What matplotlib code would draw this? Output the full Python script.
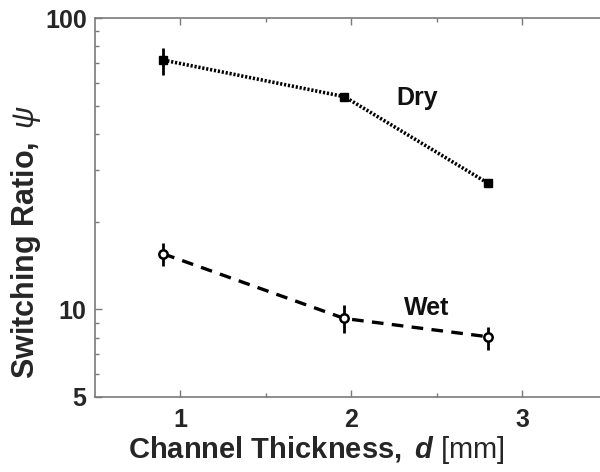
import matplotlib
matplotlib.use("Agg")
import matplotlib.pyplot as plt
from matplotlib.ticker import FixedLocator, NullFormatter

plt.rcParams['font.family'] = ['Liberation Sans', 'DejaVu Sans']
plt.rcParams['mathtext.fontset'] = 'custom'
plt.rcParams['mathtext.rm'] = 'Liberation Sans'
plt.rcParams['mathtext.bf'] = 'Liberation Sans:bold'
plt.rcParams['mathtext.it'] = 'Liberation Sans:italic'
plt.rcParams['mathtext.bfit'] = 'Liberation Sans:bold:italic'

# data
dry_x = [0.9, 1.96, 2.8]
dry_y = [71.7, 53.7, 27.1]
dry_lo = [63.7, 52.5, 26.5]
dry_hi = [78.9, 55.0, 27.7]

wet_x = [0.9, 1.96, 2.8]
wet_y = [15.5, 9.3, 8.05]
wet_lo = [14.1, 8.3, 7.25]
wet_hi = [16.9, 10.35, 8.7]

y_ticks = [5, 10, 100]
y_ticklabels = ['5', '10', '100']
x_ticks = [1, 2, 3]

fig = plt.figure(figsize=(6, 4.72), dpi=100)
ax = fig.add_axes([95/600, 75/472, (607.5-95)/600, (397-18)/472])
ax.set_yscale('log')

def yerr(y, lo, hi):
    return [[a - b for a, b in zip(y, lo)], [c - a for a, c in zip(y, hi)]]

ax.errorbar(dry_x, dry_y, yerr=yerr(dry_y, dry_lo, dry_hi), fmt='s', ms=6,
            color='black', mfc='black', mec='black', ecolor='black', elinewidth=2,
            capsize=0, zorder=3)
ax.plot(dry_x, dry_y, linestyle=(0, (0.6, 0.5)), color='black', lw=2.6, zorder=2)

ax.errorbar(wet_x, wet_y, yerr=yerr(wet_y, wet_lo, wet_hi), fmt='o', ms=6,
            color='black', mfc='white', mec='black', mew=1.8, ecolor='black',
            elinewidth=2, capsize=0, zorder=3)
ax.plot(wet_x, wet_y, linestyle=(0, (3.5, 2.5)), color='black', lw=2.4, zorder=2)

ax.set_xlim(0.5, 3.5)
ax.set_ylim(5, 100)
ax.yaxis.set_major_locator(FixedLocator(y_ticks))
ax.set_yticklabels(y_ticklabels)
ax.yaxis.set_minor_locator(FixedLocator([6, 7, 8, 9, 20, 30, 40, 50, 60, 70, 80, 90]))
ax.yaxis.set_minor_formatter(NullFormatter())
ax.xaxis.set_major_locator(FixedLocator(x_ticks))
ax.xaxis.set_minor_locator(FixedLocator([1.5, 2.5]))

for s in ax.spines.values():
    s.set_color('#7a7a7a')
    s.set_linewidth(1.2)
ax.tick_params(which='both', direction='in', top=True, right=True, colors='#7a7a7a',
               labelcolor='#262626')
ax.tick_params(which='major', length=5, width=1, labelsize=18)
ax.tick_params(which='minor', length=3, width=1)
ax.tick_params(axis='y', pad=6)
ax.tick_params(axis='x', pad=8)
for lab in ax.get_xticklabels() + ax.get_yticklabels():
    lab.set_fontweight('bold')

ax.set_xlabel(r"$\mathbf{Channel\ Thickness,}\ \mathbfit{d}\ \mathrm{[mm]}$",
              fontsize=21, color='#262626')
ax.set_ylabel(r"$\mathbf{Switching\ Ratio,}\ \psi$", fontsize=22, color='#262626')
ax.xaxis.set_label_coords(0.433, -0.097)
ax.yaxis.set_label_coords(-0.102, 0.409)

ax.text(2.386, 53, 'Dry', fontsize=18, fontweight='bold', ha='center', va='center',
        color='#111111')
ax.text(2.44, 10.1, 'Wet', fontsize=18, fontweight='bold', ha='center', va='center',
        color='#111111')

fig.savefig('out.png', dpi=100)
